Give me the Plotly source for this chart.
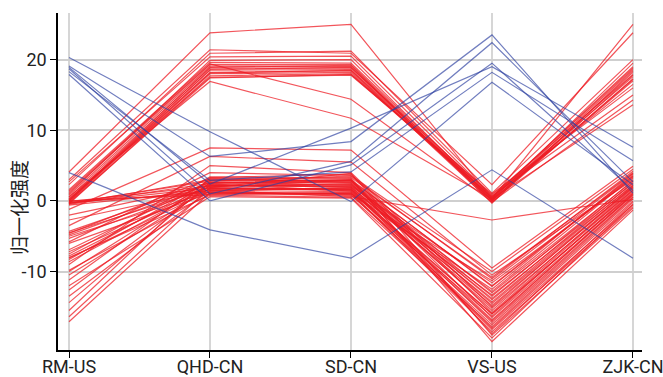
import plotly.graph_objects as go

categories = ["RM-US", "QHD-CN", "SD-CN", "VS-US", "ZJK-CN"]
y_ticks = [-10, 0, 10, 20]
y_tick_labels = ["-10", "0", "10", "20"]

# Red series, upper group
red_hi_rm = [4.1, 3.0, 2.3, 1.6, 1.2, 0.8, 0.5, 0.2, 0.0, -0.2, -0.4, 0.3, 1.0, 0.1, -0.1, 0.6, 2.7, 1.4, -0.3, 0.0]
red_hi_qhd = [23.8, 21.4, 20.9, 19.6, 19.3, 19.1, 18.8, 18.5, 18.2, 18.0, 17.7, 17.5, 19.9, 18.9, 18.6, 16.9, 20.4, 19.4, 17.4, 18.1]
red_hi_sd = [25.0, 20.9, 21.2, 19.5, 19.3, 19.0, 18.8, 18.6, 18.4, 18.2, 18.0, 17.8, 20.0, 19.2, 18.9, 11.7, 20.5, 14.4, 17.9, 18.5]
red_hi_vs = [0.3, 2.3, 1.1, 0.5, 0.2, 0.0, 0.8, 0.4, -0.2, 0.1, 0.6, 1.0, 0.2, -0.3, 0.0, 0.3, 0.7, -0.1, 0.5, 0.1]
red_hi_zjk = [25.0, 23.8, 20.0, 19.0, 18.6, 18.2, 17.9, 17.6, 17.3, 17.0, 16.5, 16.0, 19.5, 18.4, 17.8, 13.6, 15.0, 14.3, 18.8, 17.2]

# Red series, lower group
red_lo_rm = [-0.1, -0.3, -0.5, -0.2, -0.4, 0.0, -0.6, -0.3, -1.2, -2.0, -2.7, -3.5, -4.3, -4.5, -4.6, -4.8, -5.0, -5.3, -5.8, -6.0,
             -6.9, -7.2, -7.5, -7.8, -8.0, -8.1, -8.3, -8.6, -9.0, -9.8, -10.0, -10.5, -11.2, -12.0, -12.6, -13.5, -14.4, -15.5, -16.4, -17.1]
red_lo_qhd = [2.1, 1.8, 2.5, 1.2, 3.0, 0.9, 1.5, 2.8, 7.5, 2.2, 1.6, 6.3, 2.6, 1.9, 3.2, 2.4, 1.3, 2.0, 4.0, 1.1,
              2.7, 1.7, 3.4, 2.3, 0.8, 1.4, 2.9, 2.1, 5.0, 1.0, 2.5, 1.8, 3.1, 0.6, 2.2, 1.5, 2.6, 3.3, 1.9, 1.2]
red_lo_sd = [2.4, 1.5, 3.0, 0.9, 2.8, 1.2, 0.6, 3.5, 7.2, 2.0, 1.8, 5.5, 2.2, 3.9, 2.6, 1.4, 1.0, 2.9, 3.6, 0.8,
             2.5, 1.6, 3.2, 2.1, 0.5, 1.9, 3.0, 2.3, 4.0, 1.1, 2.7, 1.7, 3.3, 0.4, 2.0, 1.3, 2.9, 3.8, 1.6, 1.0]
red_lo_vs = [-14.5, -16.0, -12.1, -17.5, -13.0, -18.2, -2.7, -11.0, -9.5, -15.2, -16.8, -10.5, -13.8, -19.0, -14.0, -17.0, -12.5, -18.8, -10.0, -16.3,
             -15.5, -13.3, -19.9, -11.6, -17.8, -14.8, -16.5, -12.8, -15.0, -18.5, -13.5, -17.2, -10.8, -19.4, -14.3, -16.0, -12.0, -15.8, -18.0, -11.3]
red_lo_zjk = [2.0, 1.2, 3.5, 0.5, 2.8, -0.5, 0.2, 4.2, 4.9, 1.5, 0.8, 3.0, 2.2, -1.0, 2.6, 1.0, 3.8, -0.2, 4.5, 1.4,
              1.8, 2.5, -1.3, 3.2, 0.3, 1.9, 0.9, 3.4, 2.1, -0.8, 2.9, 0.6, 4.0, -0.5, 2.3, 1.1, 3.6, 1.6, 0.0, 3.9]

# Blue series
blue_rm = [20.3, 19.1, 18.9, 18.7, 18.3, 17.9, 4.0]
blue_qhd = [9.8, 6.3, 2.4, 1.0, 2.9, 0.0, -4.1]
blue_sd = [-0.1, 8.4, 10.3, 5.6, 4.1, 5.1, -8.1]
blue_vs = [16.8, 23.5, 19.0, 22.4, 18.2, 19.5, 4.4]
blue_zjk = [2.3, 1.1, 7.6, 2.7, 5.7, 1.5, -8.1]

RED = "rgba(237,28,36,0.75)"
BLUE = "rgba(45,65,160,0.68)"

fig = go.Figure()

def add_group(cols, color):
    for vals in zip(*cols):
        fig.add_trace(go.Scatter(x=categories, y=list(vals), mode="lines",
                                 line=dict(color=color, width=1.2), hoverinfo="skip",
                                 showlegend=False))

add_group([red_lo_rm, red_lo_qhd, red_lo_sd, red_lo_vs, red_lo_zjk], RED)
add_group([red_hi_rm, red_hi_qhd, red_hi_sd, red_hi_vs, red_hi_zjk], RED)
add_group([blue_rm, blue_qhd, blue_sd, blue_vs, blue_zjk], BLUE)

FONT = "Roboto, sans-serif"

fig.update_layout(
    width=663, height=377,
    margin=dict(l=58, r=21, t=13, b=27, autoexpand=False),
    paper_bgcolor="white", plot_bgcolor="white",
    font=dict(family=FONT, size=18, color="#222"),
    xaxis=dict(type="category", range=[-0.078, 4.064], automargin=False,
               showgrid=True, gridcolor="#d6d6d6", gridwidth=1.5,
               showline=True, linecolor="black", linewidth=1.5,
               ticks="outside", ticklen=6, tickcolor="black",
               ticklabelstandoff=-6,
               tickfont=dict(family=FONT, size=18, color="#222")),
    yaxis=dict(range=[-21.1, 26.6], tickvals=y_ticks, ticktext=y_tick_labels,
               automargin=False,
               showgrid=True, gridcolor="#cfcfcf", gridwidth=1.5,
               zeroline=False,
               showline=True, linecolor="black", linewidth=1.5,
               ticks="outside", ticklen=6, tickcolor="black",
               tickfont=dict(family=FONT, size=18, color="#222")),
    annotations=[dict(text="归一化强度", textangle=-90, xref="paper", yref="paper",
                      x=-0.0685, y=0.424, xanchor="center", yanchor="middle",
                      showarrow=False, font=dict(family="Noto Sans CJK SC", size=19, color="#222"))],
)

fig.write_html("out.html", config={"displayModeBar": False},
               post_script="document.body.style.margin='0';")
